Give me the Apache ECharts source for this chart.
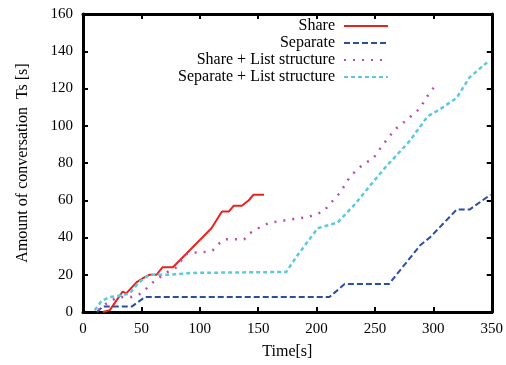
<!DOCTYPE html>
<html>
<head>
<meta charset="utf-8">
<script src="https://cdn.jsdelivr.net/npm/echarts@6/dist/echarts.min.js"></script>
<style>
  html, body { margin: 0; padding: 0; background: #fff; }
  #chart { width: 506px; height: 365px; }
</style>
</head>
<body>
<div id="chart"></div>
<script>
// values: [time, Ts]
const share = [[17,0],[23,1],[29,6.5],[34,11],[37,10],[46,16],[51,18],[57,20],[63,20],[68,24],[77,24],
  [88,31],[99,38],[110,45],[119,54],[125,54],[129,57],[136,57],[142,60],[146,63],[155,63]];
const separate = [[12,0],[17,3],[42,3],[53,8],[211,8],[224,15],[262,15],[289,36],[297,40],
  [320,55],[331,55],[349,63]];
const shareList = [[13,1],[21,5],[30,8],[42,8],[50,10],[60,16],[71,21],[80,24],[88,31],[94,32],
  [102,32],[111,33],[115,36],[121,39],[138,39],[142,42],[153,46],[160,48],[193,51],[206,54],
  [210,57],[220,64],[229,73],[241,80],[248,82],[257,90],[267,98],[275,102],[288,109],[296,117],[301,121]];
const separateList = [[10,1],[16,6],[23,8],[34,9],[40,10],[48,16],[57,20],[74,20],[94,21],[174,21.5],
  [182,29],[201,45],[218,48],[233,58],[246,68],[258,77],[280,92],[295,105],[306,109],[320,115],
  [331,126],[346,134]];

const seriesNames = ['Share', 'Separate', 'Share + List structure', 'Separate + List structure'];

const font = 'Liberation Serif, Times New Roman, serif';
const chart = echarts.init(document.getElementById('chart'));

const frame = { show: true, onZero: false, lineStyle: { color: '#000', width: 3 } };
const tick = { show: true, inside: true, length: 5, lineStyle: { color: '#000', width: 2 } };

chart.setOption({
  animation: false,
  backgroundColor: '#fff',
  grid: { left: 83, right: 12, top: 14, bottom: 53 },
  legend: {
    data: seriesNames,
    orient: 'vertical',
    right: 112,
    top: 13,
    align: 'right',
    itemWidth: 44,
    itemHeight: 10,
    itemGap: 1,
    itemStyle: { opacity: 0 },
    textStyle: { fontFamily: font, fontSize: 16, color: '#000', padding: [0, 4, 0, 0] }
  },
  xAxis: [
    {
      type: 'value', min: 0, max: 350, interval: 50,
      name: 'Time[s]', nameLocation: 'middle', nameGap: 32,
      nameTextStyle: { fontFamily: font, fontSize: 16, color: '#000' },
      axisLine: frame, axisTick: tick, splitLine: { show: false },
      axisLabel: { fontFamily: font, fontSize: 15, color: '#000', margin: 10 }
    },
    {
      type: 'value', position: 'top', min: 0, max: 350, interval: 50,
      axisLine: frame, axisTick: tick, splitLine: { show: false }, axisLabel: { show: false }
    }
  ],
  yAxis: [
    {
      type: 'value', min: 0, max: 160, interval: 20,
      name: 'Amount of conversation  Ts [s]', nameLocation: 'middle', nameGap: 52,
      nameTextStyle: { fontFamily: font, fontSize: 16, color: '#000' },
      axisLine: frame, axisTick: tick, splitLine: { show: false },
      axisLabel: { fontFamily: font, fontSize: 15, color: '#000', margin: 10 }
    },
    {
      type: 'value', position: 'right', min: 0, max: 160, interval: 20,
      axisLine: frame, axisTick: tick, splitLine: { show: false }, axisLabel: { show: false }
    }
  ],
  series: [
    {
      name: seriesNames[0], type: 'line', data: share, showSymbol: false, symbol: 'none',
      itemStyle: { color: '#e8231f' },
      lineStyle: { color: '#e8231f', width: 2 }
    },
    {
      name: seriesNames[1], type: 'line', data: separate, showSymbol: false, symbol: 'none',
      itemStyle: { color: '#2a4ea6' },
      lineStyle: { color: '#2a4ea6', width: 2, type: [6, 3] }
    },
    {
      name: seriesNames[2], type: 'line', data: shareList, showSymbol: false, symbol: 'none',
      itemStyle: { color: '#c04aa8' },
      lineStyle: { color: '#c04aa8', width: 2.5, type: [2, 7] }
    },
    {
      name: seriesNames[3], type: 'line', data: separateList, showSymbol: false, symbol: 'none',
      itemStyle: { color: '#5cc8e2' },
      lineStyle: { color: '#5cc8e2', width: 2.5, type: [4, 3] }
    }
  ]
});
</script>
</body>
</html>
